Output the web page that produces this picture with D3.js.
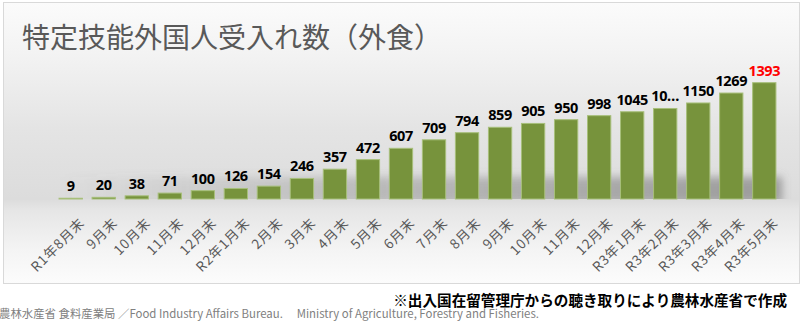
<!DOCTYPE html>
<html><head><meta charset="utf-8">
<script src="https://cdn.jsdelivr.net/npm/d3@7"></script>
<style>
html,body{margin:0;padding:0;background:#fff;}
svg{display:block;}
</style></head>
<body>
<svg id="c" width="804" height="327"></svg>
<script>
const title = "特定技能外国人受入れ数（外食）";
const categories = ["R1年8月末","9月末","10月末","11月末","12月末","R2年1月末","2月末","3月末","4月末","5月末","6月末","7月末","8月末","9月末","10月末","11月末","12月末","R3年1月末","R3年2月末","R3年3月末","R3年4月末","R3年5月末"];
const values = [9,20,38,71,100,126,154,246,357,472,607,709,794,859,905,950,998,1045,1084,1150,1269,1393];
const truncatedLabels = {18: "10…"};
const highlightIndex = 21;
const sourceNote = "※出入国在留管理庁からの聴き取りにより農林水産省で作成";
const footer = "農林水産省 食料産業局 ／Food Industry Affairs Bureau.　 Ministry of Agriculture, Forestry and Fisheries.";

const svg = d3.select("#c");
const defs = svg.append("defs");
const bg = defs.append("linearGradient").attr("id","bg").attr("x1",0).attr("y1",0).attr("x2",0).attr("y2",1);
[[0,"#fbfbfb"],[0.18,"#f3f3f3"],[0.45,"#e4e4e4"],[0.70,"#dcdcdc"],[0.74,"#e6e6e6"],[0.88,"#f4f4f4"],[1,"#fcfcfc"]]
  .forEach(([o,c])=>bg.append("stop").attr("offset",o).attr("stop-color",c));
const sh = defs.append("linearGradient").attr("id","sh").attr("x1",0).attr("y1",0).attr("x2",1).attr("y2",0);
[[0,0.0],[0.4,0.3],[1,0.6]].forEach(([o,a])=>sh.append("stop").attr("offset",o).attr("stop-color","#707070").attr("stop-opacity",a));
defs.append("filter").attr("id","blur").attr("x","-10%").attr("y","-50%").attr("width","120%").attr("height","200%")
  .append("feGaussianBlur").attr("stdDeviation",4);

// panel
svg.append("rect").attr("x",3.5).attr("y",2.5).attr("width",796).attr("height",281)
  .attr("fill","url(#bg)").attr("stroke","#d9d9d9").attr("stroke-width",1);

svg.append("text").attr("x",22).attr("y",48).text(title)
  .attr("font-family","'Noto Sans CJK JP'").attr("font-size",28).attr("fill","#595959");

const x = d3.scaleBand().domain(d3.range(categories.length)).range([48.5,786.5]).paddingInner(0.295).paddingOuter(0.32);
const y = d3.scaleLinear().domain([0,1400]).range([199,82.1]);

// floor shadow
const clip = defs.append("clipPath").attr("id","cl");
clip.append("rect").attr("x",0).attr("y",0).attr("width",804).attr("height",y(0));
svg.append("rect").attr("x",x(0)).attr("y",y(0)-22).attr("width",x(categories.length-1)+x.bandwidth()+6-x(0)).attr("height",26)
  .attr("fill","url(#sh)").attr("filter","url(#blur)").attr("clip-path","url(#cl)");

svg.append("g").selectAll("rect").data(values).join("rect")
  .attr("x",(d,i)=>x(i)).attr("width",x.bandwidth())
  .attr("y",d=>y(d)).attr("height",d=>y(0)-y(d))
  .attr("fill","#77933c").attr("stroke","#a7bf7a").attr("stroke-width",1);

svg.append("g").selectAll("text").data(values).join("text")
  .attr("x",(d,i)=>x(i)+x.bandwidth()/2).attr("y",d=>y(d)-7)
  .attr("text-anchor","middle")
  .attr("font-family","'Noto Sans', sans-serif").attr("font-weight","bold").attr("font-size",14.5)
  .attr("letter-spacing",-0.4)
  .attr("fill",(d,i)=>i===highlightIndex?"#ff0000":"#000")
  .text((d,i)=>truncatedLabels[i]||d);

const ax = svg.append("g").attr("transform",`translate(0,${y(0)})`)
  .call(d3.axisBottom(x).tickFormat(i=>categories[i]).tickSize(0));
ax.select(".domain").remove();
ax.selectAll("text")
  .attr("font-family","'Noto Sans CJK JP'").attr("font-size",13.5).attr("fill","#595959")
  .attr("letter-spacing",0.8)
  .attr("text-anchor","end").attr("dy",0).attr("y",0)
  .attr("transform",`translate(${x.bandwidth()/2+3},25) rotate(-45)`);

svg.append("text").attr("x",787).attr("y",306).attr("text-anchor","end").text(sourceNote)
  .attr("font-family","'Noto Sans CJK JP'").attr("font-weight","bold").attr("font-size",14.6).attr("fill","#000");
svg.append("text").attr("x",-1).attr("y",318).text(footer)
  .attr("font-family","'Noto Sans CJK JP'").attr("font-size",11.4).attr("fill","#808080");
</script>
</body></html>
